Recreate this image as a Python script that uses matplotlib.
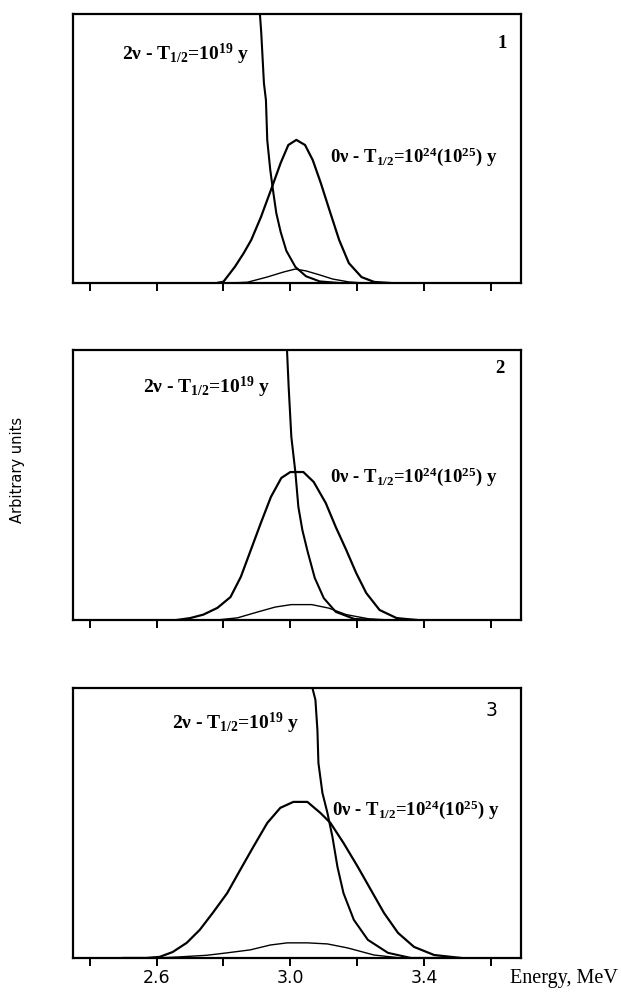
import matplotlib
matplotlib.use("Agg")
import matplotlib.pyplot as plt

plt.rcParams['font.family'] = ['Liberation Serif', 'DejaVu Serif']
plt.rcParams['mathtext.fontset'] = 'custom'
plt.rcParams['mathtext.rm'] = 'Liberation Serif:bold'
plt.rcParams['mathtext.default'] = 'rm'

# ---- data (energy in MeV, height in arbitrary units) ----
# panel 1
e1_2v = [2.903, 2.909, 2.913, 2.921, 2.927, 2.931, 2.940, 2.948, 2.958, 2.971, 2.988, 3.015, 3.047, 3.088, 3.146, 3.25]
y1_2v = [1.3, 1.0, 0.93, 0.743, 0.68, 0.53, 0.42, 0.346, 0.26, 0.19, 0.12, 0.06, 0.025, 0.006, 0.0, 0.0]
e1_0v = [2.78, 2.80, 2.834, 2.86, 2.883, 2.912, 2.942, 2.971, 2.994, 3.018, 3.044, 3.067, 3.091, 3.117, 3.146, 3.175, 3.213, 3.251, 3.30]
y1_0v = [0.0, 0.005, 0.06, 0.11, 0.16, 0.245, 0.346, 0.446, 0.513, 0.532, 0.513, 0.457, 0.372, 0.271, 0.16, 0.074, 0.022, 0.004, 0.0]
e1_0v25 = [2.82, 2.872, 2.930, 2.98, 3.015, 3.047, 3.088, 3.126, 3.175, 3.22]
y1_0v25 = [0.0, 0.003, 0.022, 0.041, 0.052, 0.045, 0.03, 0.015, 0.004, 0.0]

# panel 2
e2_2v = [2.987, 2.990, 2.995, 3.003, 3.015, 3.024, 3.036, 3.052, 3.073, 3.1, 3.136, 3.191, 3.26]
y2_2v = [1.3, 1.0, 0.863, 0.678, 0.548, 0.419, 0.333, 0.252, 0.156, 0.081, 0.03, 0.004, 0.0]
e2_0v = [2.66, 2.70, 2.74, 2.782, 2.821, 2.852, 2.882, 2.912, 2.942, 2.973, 3.0, 3.039, 3.07,
         3.106, 3.136, 3.167, 3.197, 3.227, 3.267, 3.318, 3.379]
y2_0v = [0.0, 0.007, 0.02, 0.045, 0.085, 0.16, 0.26, 0.36, 0.456, 0.526, 0.548, 0.548, 0.511,
         0.433, 0.344, 0.26, 0.174, 0.1, 0.037, 0.007, 0.0]
e2_0v25 = [2.78, 2.842, 2.903, 2.955, 3.003, 3.064, 3.115, 3.167, 3.236, 3.30]
y2_0v25 = [0.0, 0.008, 0.03, 0.048, 0.057, 0.057, 0.044, 0.02, 0.004, 0.0]

# panel 3
e3_2v = [3.06, 3.066, 3.075, 3.081, 3.084, 3.096, 3.111, 3.126, 3.141, 3.159, 3.19, 3.232, 3.292, 3.361, 3.45]
y3_2v = [1.3, 1.0, 0.956, 0.844, 0.722, 0.611, 0.537, 0.448, 0.337, 0.24, 0.141, 0.067, 0.019, 0.0, 0.0]
e3_0v = [2.50, 2.57, 2.609, 2.648, 2.69, 2.729, 2.768, 2.811, 2.85, 2.889, 2.931, 2.97, 3.009, 3.051,
         3.09, 3.12, 3.159, 3.202, 3.241, 3.28, 3.322, 3.37, 3.43, 3.511]
y3_0v = [0.0, 0.0, 0.004, 0.022, 0.056, 0.104, 0.167, 0.24, 0.326, 0.411, 0.5, 0.556, 0.578, 0.578,
         0.537, 0.5, 0.426, 0.337, 0.252, 0.167, 0.093, 0.041, 0.011, 0.0]
e3_0v25 = [2.60, 2.669, 2.75, 2.811, 2.88, 2.94, 2.991, 3.051, 3.111, 3.172, 3.25, 3.331]
y3_0v25 = [0.0, 0.004, 0.01, 0.019, 0.03, 0.048, 0.056, 0.056, 0.052, 0.037, 0.011, 0.0]

xticks = [2.4, 2.6, 2.8, 3.0, 3.2, 3.4, 3.6]
xticklabels = ['', '2.6', '', '3.0', '', '3.4', '']
panel_ids = ['1', '2', '3']
label_2v = '2ν - T$_{1/2}$=10$^{19}$ y'
label_0v = '0ν - T$_{1/2}$=10$^{24}$(10$^{25}$) y'

panels = [
    (e1_2v, y1_2v, e1_0v, y1_0v, e1_0v25, y1_0v25),
    (e2_2v, y2_2v, e2_0v, y2_0v, e2_0v25, y2_0v25),
    (e3_2v, y3_2v, e3_0v, y3_0v, e3_0v25, y3_0v25),
]

# ---- layout ----
fig = plt.figure(figsize=(6.21, 9.92), dpi=100)
boxes = [[0.1176, 0.7147, 0.7214, 0.2712],
         [0.1176, 0.3750, 0.7214, 0.2722],
         [0.1176, 0.0343, 0.7214, 0.2722]]
pos_2v = [(0.109, 0.848), (0.156, 0.863), (0.221, 0.870)]
pos_0v = [(0.574, 0.468), (0.574, 0.530), (0.578, 0.548)]
pos_id = [(0.958, 0.892), (0.953, 0.933), (0.935, 0.918)]
id_family = ['Liberation Serif', 'Liberation Serif', 'DejaVu Sans']
id_weight = ['bold', 'bold', 'normal']

for i, (e2v, y2v, e0v, y0v, e25, y25) in enumerate(panels):
    ax = fig.add_axes(boxes[i])
    ax.plot(e2v, y2v, color='black', lw=1.5)
    ax.plot(e0v, y0v, color='black', lw=1.6)
    ax.plot(e25, y25, color='black', lw=1.0)
    ax.set_xlim(2.35, 3.69)
    ax.set_ylim(0, 1.0)
    ax.set_yticks([])
    ax.set_xticks(xticks)
    if i == 2:
        ax.set_xticklabels(xticklabels, fontsize=12.5, family='DejaVu Sans')
    else:
        ax.set_xticklabels([])
    ax.tick_params(axis='x', direction='out', length=6, width=1.4, pad=2)
    for s in ax.spines.values():
        s.set_linewidth(1.6)
    ax.text(*pos_2v[i], label_2v, transform=ax.transAxes, fontsize=14,
            fontweight='bold', va='center', ha='left')
    ax.text(*pos_0v[i], label_0v, transform=ax.transAxes, fontsize=13.5,
            fontweight='bold', va='center', ha='left')
    ax.text(*pos_id[i], panel_ids[i], transform=ax.transAxes, fontsize=13.5,
            fontweight=id_weight[i], va='center', ha='center', family=id_family[i])

fig.text(18 / 621, 1 - 470 / 992, 'Arbitrary units', rotation=90, fontsize=10.5,
         family='DejaVu Sans', va='center', ha='center')
fig.text(510 / 621, 1 - 978 / 992, 'Energy, MeV', fontsize=14.5, va='center', ha='left')

fig.savefig('out.png', dpi=100)
